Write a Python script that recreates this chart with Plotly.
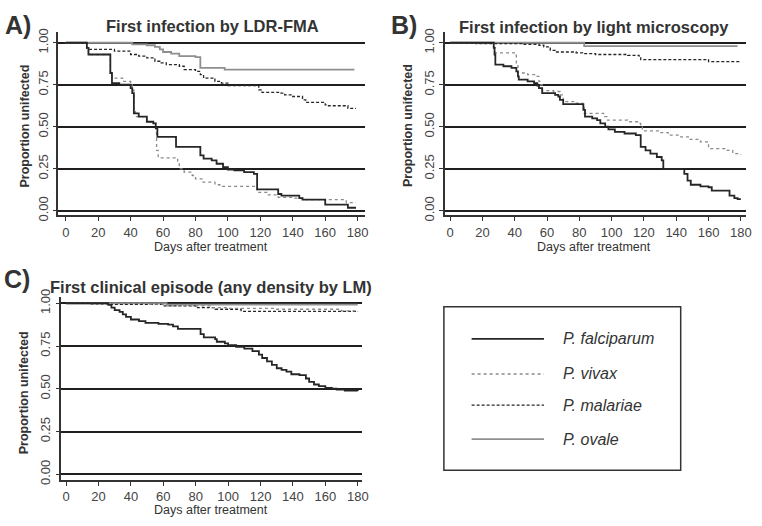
import plotly.graph_objects as go

W, H = 762, 526

species = ["P. falciparum", "P. vivax", "P. malariae", "P. ovale"]
x_ticks = [0, 20, 40, 60, 80, 100, 120, 140, 160, 180]
y_ticks = [0.0, 0.25, 0.5, 0.75, 1.0]
y_tick_labels = ["0.00", "0.25", "0.50", "0.75", "1.00"]

# Panel A: first infection by LDR-FMA
a_falc_t = [0, 13, 14, 27.5, 28.5, 33, 40, 41, 42, 45, 50, 54, 55.5, 56.5, 68, 83, 85, 90, 93, 97, 100, 104, 110, 116, 118, 131, 133, 144, 146, 160, 174, 179]
a_falc_s = [1.0, 0.97, 0.93, 0.82, 0.76, 0.75, 0.73, 0.70, 0.58, 0.56, 0.53, 0.52, 0.49, 0.44, 0.38, 0.33, 0.31, 0.30, 0.28, 0.26, 0.245, 0.24, 0.23, 0.22, 0.128, 0.10, 0.09, 0.075, 0.066, 0.037, 0.018, 0.018]
a_viv_t = [0, 13, 14, 27.5, 28.5, 35, 40, 41, 42, 43, 50, 54, 55.5, 56, 57, 69, 70, 73, 78, 80, 84, 92, 95, 118, 124, 131, 140, 146, 173, 179]
a_viv_s = [1.0, 0.97, 0.93, 0.82, 0.79, 0.77, 0.75, 0.72, 0.60, 0.56, 0.53, 0.52, 0.49, 0.36, 0.315, 0.28, 0.25, 0.23, 0.21, 0.19, 0.17, 0.155, 0.145, 0.11, 0.095, 0.08, 0.075, 0.066, 0.048, 0.048]
a_mal_t = [0, 13, 14, 30, 40, 45, 50, 55, 58, 62, 70, 73, 80, 83, 85, 92, 96, 100, 119, 121, 132, 135, 140, 146, 148, 160, 162, 174, 179]
a_mal_s = [1.0, 0.97, 0.96, 0.95, 0.93, 0.92, 0.91, 0.89, 0.88, 0.87, 0.86, 0.84, 0.83, 0.81, 0.79, 0.77, 0.76, 0.745, 0.72, 0.705, 0.70, 0.69, 0.68, 0.66, 0.645, 0.63, 0.625, 0.61, 0.61]
a_ova_t = [0, 41, 50, 55, 58, 60, 65, 70, 80, 83, 98, 178]
a_ova_s = [1.0, 0.99, 0.985, 0.975, 0.96, 0.945, 0.935, 0.92, 0.915, 0.85, 0.84, 0.84]

# Panel B: first infection by light microscopy
b_falc_t = [0, 27, 27.5, 28, 33, 38, 41, 42, 42.5, 48, 52, 54, 55, 57, 65, 67, 68, 70, 82.5, 83.5, 88, 91, 93, 96, 98, 102, 108, 115, 118, 121, 124, 128, 131, 132, 145, 147, 149, 155, 160, 162, 173, 176, 178, 180]
b_falc_s = [1.0, 0.97, 0.93, 0.87, 0.86, 0.85, 0.83, 0.80, 0.78, 0.77, 0.76, 0.745, 0.73, 0.70, 0.69, 0.68, 0.66, 0.635, 0.60, 0.56, 0.55, 0.54, 0.52, 0.50, 0.485, 0.47, 0.46, 0.45, 0.38, 0.36, 0.34, 0.32, 0.30, 0.25, 0.22, 0.18, 0.155, 0.145, 0.14, 0.12, 0.09, 0.075, 0.07, 0.07]
b_viv_t = [0, 27.5, 28, 41, 42, 48, 53, 55, 56, 57, 64, 68, 70, 78, 82, 83, 95, 97, 110, 116, 118, 119, 130, 135, 142, 148, 155, 160, 170, 175, 180]
b_viv_s = [1.0, 0.97, 0.94, 0.87, 0.82, 0.81, 0.80, 0.77, 0.75, 0.715, 0.71, 0.69, 0.65, 0.64, 0.63, 0.58, 0.56, 0.54, 0.53, 0.52, 0.50, 0.475, 0.465, 0.45, 0.44, 0.425, 0.41, 0.37, 0.36, 0.34, 0.335]
b_mal_t = [0, 16, 45, 55, 58, 62, 65, 78, 82, 90, 110, 117, 118, 160, 180]
b_mal_s = [1.0, 0.995, 0.99, 0.985, 0.975, 0.955, 0.945, 0.94, 0.935, 0.93, 0.925, 0.915, 0.90, 0.888, 0.888]
b_ova_t = [0, 83, 178]
b_ova_s = [1.0, 0.98, 0.98]

# Panel C: first clinical episode
c_falc_t = [0, 26, 28, 30, 33, 35, 37, 40, 45, 49, 57, 63, 66, 69, 83, 85, 92, 93, 98, 100, 105, 110, 115, 119, 121, 124, 127, 130, 133, 136, 139, 144, 148, 150, 153, 156, 160, 164, 167, 172, 180]
c_falc_s = [1.0, 0.99, 0.975, 0.96, 0.95, 0.935, 0.92, 0.905, 0.895, 0.885, 0.88, 0.875, 0.865, 0.85, 0.82, 0.80, 0.79, 0.775, 0.765, 0.755, 0.745, 0.735, 0.72, 0.70, 0.68, 0.66, 0.64, 0.62, 0.61, 0.60, 0.585, 0.58, 0.56, 0.54, 0.525, 0.515, 0.505, 0.50, 0.495, 0.49, 0.487]
c_viv_t = [0, 50, 62, 90, 100, 130, 170, 180]
c_viv_s = [1.0, 0.995, 0.985, 0.975, 0.97, 0.965, 0.955, 0.955]
c_mal_t = [0, 15, 27, 60, 80, 92, 108, 180]
c_mal_s = [1.0, 0.997, 0.993, 0.985, 0.975, 0.965, 0.953, 0.95]
c_ova_t = [0, 62, 180]
c_ova_s = [1.0, 0.992, 0.992]

panels = [
    ("x", "y", [(a_falc_t, a_falc_s), (a_viv_t, a_viv_s), (a_mal_t, a_mal_s), (a_ova_t, a_ova_s)]),
    ("x2", "y2", [(b_falc_t, b_falc_s), (b_viv_t, b_viv_s), (b_mal_t, b_mal_s), (b_ova_t, b_ova_s)]),
    ("x3", "y3", [(c_falc_t, c_falc_s), (c_viv_t, c_viv_s), (c_mal_t, c_mal_s), (c_ova_t, c_ova_s)]),
]

styles = [
    dict(color="#262626", width=1.8, dash="solid"),
    dict(color="#8a8a8a", width=1.3, dash="dot"),
    dict(color="#262626", width=1.3, dash="3px,2px"),
    dict(color="#8f8f8f", width=1.8, dash="solid"),
]

fig = go.Figure()
for xa, ya, series in panels:
    for i in [3, 2, 1, 0]:
        t, s = series[i]
        fig.add_trace(go.Scatter(x=t, y=s, mode="lines", line=styles[i], line_shape="hv",
                                 xaxis=xa, yaxis=ya, name=species[i], showlegend=False,
                                 hoverinfo="skip"))

def px_x(p):
    return p / W

def px_y(p):
    return 1 - p / H

FONT = "Liberation Sans, Arial, sans-serif"
TXT = "#333333"
TICK = "#444444"

def xaxis_cfg(left, right, rng, anchor):
    return dict(domain=[px_x(left), px_x(right)], range=rng, anchor=anchor,
                tickmode="array", tickvals=x_ticks, ticks="outside", ticklen=4,
                tickcolor="#333", tickwidth=1, showline=True, linecolor="#333", linewidth=1.5,
                showgrid=False, zeroline=False, tickfont=dict(size=13, color=TICK, family=FONT))

def yaxis_cfg(top, bottom, rng, anchor):
    return dict(domain=[px_y(bottom), px_y(top)], range=rng, anchor=anchor,
                tickmode="array", tickvals=y_ticks, ticktext=y_tick_labels, tickangle=-90,
                ticks="outside", ticklen=4, tickcolor="#333", tickwidth=1,
                showline=True, linecolor="#333", linewidth=1.5,
                showgrid=True, gridcolor="#1f1f1f", gridwidth=1.5, zeroline=False,
                tickfont=dict(size=13, color=TICK, family=FONT))

fig.update_layout(
    width=W, height=H, margin=dict(l=0, r=0, t=0, b=0),
    paper_bgcolor="white", plot_bgcolor="white", showlegend=False,
    xaxis=xaxis_cfg(59, 368, [-4.5, 184.3], "y"),
    yaxis=yaxis_cfg(25, 213, [-0.027, 1.062], "x"),
    xaxis2=xaxis_cfg(449, 753, [-3.25, 183.25], "y2"),
    yaxis2=yaxis_cfg(25, 213, [-0.027, 1.062], "x2"),
    xaxis3=xaxis_cfg(62, 365, [-2.87, 182.4], "y3"),
    yaxis3=yaxis_cfg(297, 485, [-0.034, 1.036], "x3"),
)

annotations = []
def ann(text, x, y, size, bold=False, italic=False, angle=0, xanchor="center"):
    if bold:
        text = "<b>" + text + "</b>"
    if italic:
        text = "<i>" + text + "</i>"
    annotations.append(dict(text=text, x=px_x(x), y=px_y(y), xref="paper", yref="paper",
                            showarrow=False, textangle=angle, xanchor=xanchor, yanchor="middle",
                            font=dict(size=size, color=TXT, family=FONT)))

ann("A)", 18, 17, 25, bold=True)
ann("B)", 408, 17, 25, bold=True)
ann("C)", 17, 278, 25, bold=True)
ann("First infection by LDR-FMA", 214, 19, 16.5, bold=True)
ann("First infection by light microscopy", 600, 20, 16.5, bold=True)
ann("First clinical episode (any density by LM)", 213, 287, 16.5, bold=True)
ann("Proportion unifected", 25, 121, 12.5, bold=True, angle=-90)
ann("Proportion unifected", 412, 121, 12.5, bold=True, angle=-90)
ann("Proportion unifected", 25, 395, 12.5, bold=True, angle=-90)
ann("Days after treatment", 213, 246, 12.5)
ann("Days after treatment", 600, 246, 12.5)
ann("Days after treatment", 213, 516, 12.5)

shapes = [dict(type="rect", xref="paper", yref="paper", x0=px_x(448), x1=px_x(687),
               y0=px_y(475), y1=px_y(307), line=dict(color="#333", width=1.5))]
rows = [340, 376, 408, 443]
for i, name in enumerate(species):
    st = styles[i]
    shapes.append(dict(type="line", xref="paper", yref="paper", x0=px_x(476), x1=px_x(549),
                       y0=px_y(rows[i]), y1=px_y(rows[i]),
                       line=dict(color=st["color"], width=st["width"], dash=st["dash"])))
    ann(name, 566, rows[i], 16, italic=True, xanchor="left")

fig.update_layout(annotations=annotations, shapes=shapes)
fig.write_html("out.html", config={"displayModeBar": False},
               post_script="document.documentElement.style.margin='0';document.body.style.margin='0';document.body.style.padding='0';document.body.style.overflow='hidden';")
